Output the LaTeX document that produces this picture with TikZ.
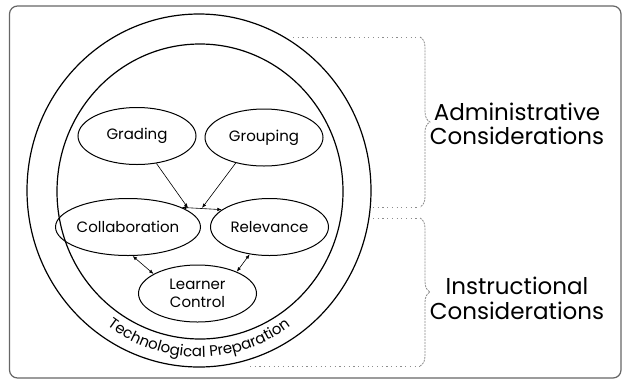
\documentclass[tikz,border=0pt]{standalone}
\usepackage{fontspec}
\setmainfont{Poppins}
\newfontfamily\tpfont{Poppins}
\usetikzlibrary{shapes.geometric,arrows.meta,decorations.pathreplacing,decorations.text}
\begin{document}
\begin{tikzpicture}[x=1pt,y=1pt,
  bub/.style={ellipse, draw, line width=1pt, minimum width=118pt, minimum height=57pt, inner sep=0pt, align=center, font=\fontsize{15}{17.5}\selectfont},
  link/.style={line width=0.6pt, {Latex[length=4.5pt,width=3.5pt]}-{Latex[length=4.5pt,width=3.5pt]}},
  feed/.style={line width=0.6pt, -{Latex[length=4.5pt,width=3.5pt]}},
  ring/.style={line width=1.2pt},
  guide/.style={draw=black!45, line width=0.8pt, dash pattern=on 1.2pt off 3.5pt},
  bracestyle/.style={draw=black!45, line width=0.8pt, dash pattern=on 2pt off 1pt, decorate, decoration={brace, amplitude=10pt}},
  side/.style={align=center, font=\fontsize{23}{24.5}\selectfont}
]
\useasboundingbox (0,0) rectangle (623,-381);
\draw[line width=1.2pt, draw=black!60, rounded corners=8pt] (9.5,-6) rectangle (621,-378);
\draw[ring] (199,-190.5) ellipse[x radius=172, y radius=176.5];
\draw[ring] (200,-191.5) ellipse[x radius=143, y radius=147.5];
\path[decorate, decoration={text along path, text={|\tpfont\fontsize{15}{16}\selectfont|Technological Preparation}, text align=center}]
  (199,-191) ++(192:157 and 166) arc[start angle=192, end angle=348, x radius=157, y radius=166];

\node[bub] (gra) at (137,-136) {Grading};
\node[bub] (gro) at (264,-137.5) {Grouping};
\node[bub] (col) at (128,-227) {Collaboration};
\node[bub] (rel) at (269.5,-227) {Relevance};
\node[bub] (lea) at (197.5,-293.5) {Learner\\Control};

\coordinate (j1) at (188,-208);
\coordinate (j2) at (202,-208);
\draw[link] (col.20) -- (rel.160);
\draw[feed] (gra) -- (j1);
\draw[feed] (gro.222) -- (j2);
\draw[link] (col.279.5) -- (lea.156.8);
\draw[link] (rel.234.6) -- (lea.29);

\coordinate (t0) at (293,-37);
\coordinate (t1) at (420,-37);
\coordinate (m0) at (373,-207);
\coordinate (m1) at (420,-207);
\coordinate (n0) at (373,-218);
\coordinate (n1) at (420,-218);
\coordinate (b0) at (250,-366);
\coordinate (b1) at (420,-366);
\draw[guide] (t0) -- (t1);
\draw[guide] (m0) -- (m1);
\draw[guide] (n0) -- (n1);
\draw[guide] (b0) -- (b1);
\draw[bracestyle] (t1) -- (m1);
\draw[bracestyle] (n1) -- (b1);

\node[side] (adm) at (517,-124) {Administrative\\Considerations};
\node[side] (ins) at (517,-298.5) {Instructional\\Considerations};
\end{tikzpicture}
\end{document}
